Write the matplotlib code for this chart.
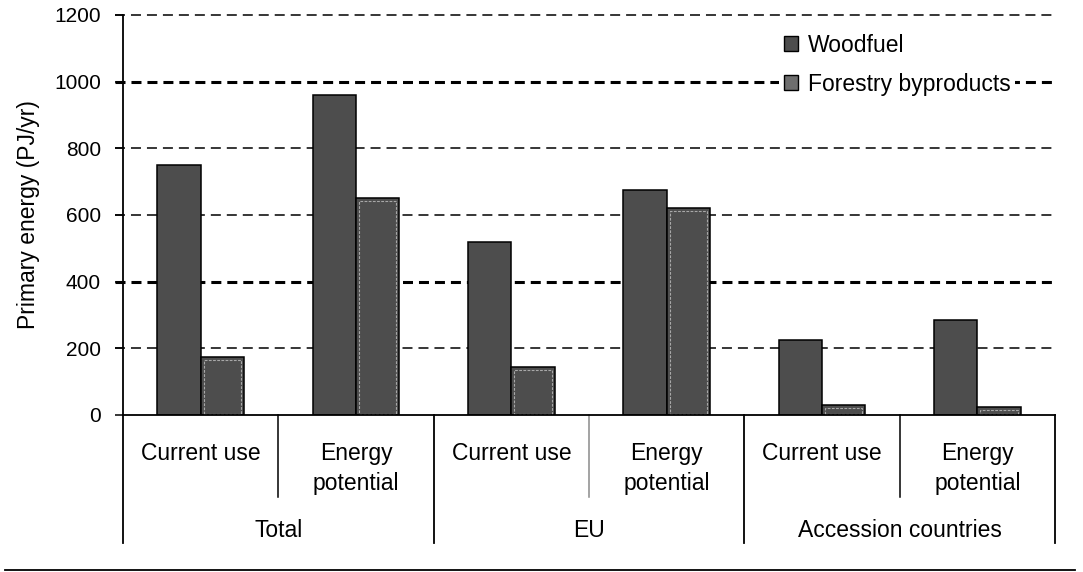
import matplotlib
matplotlib.use("Agg")
import matplotlib.pyplot as plt
from matplotlib.patches import Rectangle, Patch
from matplotlib.lines import Line2D

plt.rcParams["font.family"] = ["Liberation Sans", "DejaVu Sans"]
plt.rcParams["lines.scale_dashes"] = False

# Data
groups = ["Total", "EU", "Accession countries"]
subcats = ["Current use", "Energy\npotential"]
series = ["Woodfuel", "Forestry byproducts"]
woodfuel = [750, 960, 520, 675, 225, 285]
forestry = [175, 650, 145, 620, 30, 25]
yticks = [0, 200, 400, 600, 800, 1000, 1200]

BAR = "#4d4d4d"
fig = plt.figure(figsize=(10.83, 5.72), dpi=100)
ax = fig.add_axes([123 / 1083, 1 - 415 / 572, 932 / 1083, 400 / 572])
ax.set_xlim(0, 6)
ax.set_ylim(0, 1200)

# dashed grid (two lines come out heavier)
for y in yticks[1:]:
    heavy = y in (400, 1000)
    ax.add_line(Line2D([-0.05, 6], [y, y], color="black",
                       lw=2.2 if heavy else 1.1, dashes=(7.2, 4.3),
                       zorder=1, clip_on=False))

w = 0.28
n = len(woodfuel)
xs = [i + 0.5 for i in range(n)]
ax.bar([x - w / 2 for x in xs], woodfuel, width=w, color=BAR,
       edgecolor="black", lw=1.1, zorder=3)
ax.bar([x + w / 2 for x in xs], forestry, width=w, color=BAR,
       edgecolor="black", lw=1.1, zorder=3)
# inner light outline on forestry bars
for x, v in zip(xs, forestry):
    ins_x, ins_y = 0.02, 9
    ax.add_patch(Rectangle((x + ins_x, 3), w - 2 * ins_x, max(v - ins_y - 3, 1),
                           fill=False, edgecolor="#a8a8a8", lw=0.8,
                           linestyle=(0, (2, 1)), zorder=4))

# axes styling
for s in ["top", "right"]:
    ax.spines[s].set_visible(False)
ax.spines["left"].set_linewidth(1.3)
ax.spines["bottom"].set_linewidth(1.3)
ax.spines["bottom"].set_zorder(5)
ax.set_yticks(yticks)
ax.set_yticklabels([str(t) for t in yticks], fontsize=15)
ax.tick_params(axis="y", direction="out", length=6, width=1.1, pad=10)
ax.set_xticks([])
ax.set_ylabel("Primary energy (PJ/yr)", fontsize=16.5)
ax.yaxis.set_label_coords(-0.089, 0.5)

# category axis below plot
tr = ax.transAxes
for i in range(7):
    xa = i / 6
    if i % 2 == 0:
        ax.add_line(Line2D([xa, xa], [0, -0.32], transform=tr, color="black",
                           lw=1.3, clip_on=False))
    else:
        col = "#8a8a8a" if i == 3 else "black"
        ax.add_line(Line2D([xa, xa], [0, -0.205], transform=tr, color=col,
                           lw=1.1, clip_on=False))
for i in range(n):
    xc = (i + 0.5) / 6
    lines = subcats[i % 2].split("\n")
    for k, t in enumerate(lines):
        ax.text(xc, -0.1125 - 0.075 * k, t, transform=tr, ha="center",
                va="baseline", fontsize=16.5)
for g, name in enumerate(groups):
    ax.text((2 * g + 1) / 6, -0.305, name, transform=tr, ha="center",
            va="baseline", fontsize=16.5)

fig.add_artist(Line2D([5 / 1083, 1075 / 1083], [1 - 570 / 572] * 2,
                      transform=fig.transFigure, color="black", lw=1.3))

handles = [Patch(facecolor=BAR, edgecolor="black", lw=1.0),
           Patch(facecolor="#6e6e6e", edgecolor="black", lw=1.0)]
leg = ax.legend(handles, series, loc="upper left",
                bbox_to_anchor=(0.704, 0.965), fontsize=16.5, frameon=True,
                fancybox=False, borderpad=0.2, borderaxespad=0,
                handlelength=0.63, handleheight=0.63, handletextpad=0.42,
                labelspacing=0.7)
leg.get_frame().set_edgecolor("none")
leg.get_frame().set_facecolor("white")
leg.get_frame().set_alpha(1)
leg.set_zorder(6)

fig.savefig("out.png", dpi=100, facecolor="white")
